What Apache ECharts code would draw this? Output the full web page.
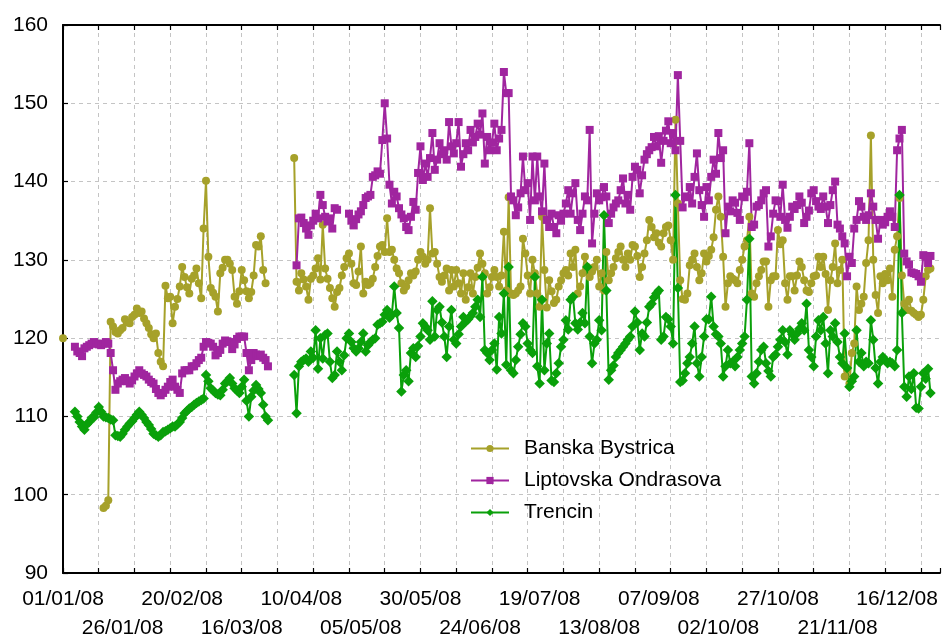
<!DOCTYPE html>
<html>
<head>
<meta charset="utf-8">
<title>Daily series 2008</title>
<script src="https://cdn.jsdelivr.net/npm/echarts@6/dist/echarts.min.js"></script>
<style>
  html, body { margin: 0; padding: 0; background: #ffffff; }
  #chart { width: 944px; height: 638px; }
</style>
</head>
<body>
<div id="chart"></div>
<script>
// Daily readings from 01/01/2008, one value per day (null = no reading).
const startYear = 2008;
const seriesNames = ['Banska Bystrica', 'Liptovska Ondrasova', 'Trencin'];

const banskaBystrica = [
  120.0,
  null, null, null, null, null, null, null, null, null, null, null, null, null, null, null, null,
  98.3, 98.6, 99.3,
  122.1, 121.5, 120.8, 120.6, 121.0, 121.3, 122.4, 122.0, 121.9, 122.7,
  123.0, 123.8, 123.2, 123.4, 122.5, 121.9, 121.3, 120.5, 120.0, 120.6,
  118.1, 117.0, 116.4, 126.7, 125.1, 125.3, 121.9, 124.0, 125.0, 126.6,
  129.1, 127.8, 126.5, 125.7, 127.6, 128.0, 128.9, 127.0, 125.1, 134.0,
  140.1, 130.4, 126.4, 125.8, 125.3, 123.4, 128.3, 129.0, 130.0, 130.0,
  129.5, 128.7, 125.3, 124.4, 126.0, 128.7, 127.4, 126.0, 125.1, 125.9,
  128.0, 131.9, 131.7, 133.0, 128.7, 127.0,
  null, null, null, null, null, null, null, null, null, null, null,
  143.0, 127.2, 126.1,
  128.3, 127.5, 126.6, 124.9, 127.6, 128.0, 128.9, 130.2, 127.5, 134.5,
  128.9, 127.6, 126.4, 125.1, 124.0, 125.9, 126.4, 128.0, 129.1, 130.2,
  130.8, 129.5, 127.0, 126.8, 128.5, 131.7, 125.7, 127.2, 126.8, 127.0,
  127.6, 129.1, 130.5, 131.7, 131.9, 131.0, 135.3, 131.0, 131.3, 130.0,
  128.9, 128.3, 127.0, 126.1, 126.6, 127.4, 128.3, 128.0, 128.5, 130.0,
  131.0, 130.4, 129.5, 130.0, 136.6, 130.8, 131.0, 129.5, 127.8, 127.2,
  128.0, 128.9, 126.1, 128.7, 126.6, 128.7, 127.0, 125.7, 128.3, 124.9,
  126.5, 128.3, 125.7, 127.8, 129.0, 130.8, 129.5, 128.3, 125.7, 126.5,
  127.8, 128.7, 127.8, 126.6, 128.0, 133.6, 126.1, 138.0, 125.7, 125.5,
  125.7, 126.1, 126.6, 132.7, 130.8, 128.0, 125.7, 130.0, 128.3, 125.7,
  124.0, 135.5, 128.7, 123.9, 127.4, 126.0, 124.5, 124.9, 126.6, 127.4,
  128.3, 128.7, 128.0, 130.8, 129.1, 131.3, 125.7, 126.6, 128.3, 130.4,
  129.1, 127.8, 128.5, 129.1, 130.0, 126.6, 128.3, 126.1, 131.0, 127.4,
  128.3, 129.1, 130.2, 131.0, 131.7, 130.0, 129.1, 130.8, 130.0, 131.9,
  131.7, 130.5, 127.8, 129.1, 130.8, 132.5, 135.1, 134.2, 132.9, 133.4,
  132.2, 131.7, 133.4, 134.2, 134.4, 132.5, 130.0, 147.9, 137.2, 127.4,
  125.0, 124.9, 125.7, 129.3, 130.0, 130.8, 129.1, 127.4, 128.3, 130.8,
  129.8, 130.5, 131.3, 132.9, 136.4, 138.1, 135.5, 130.4, 124.0, 127.0,
  127.9, 127.6, 127.4, 127.0, 128.7, 130.0, 131.7, 132.5, 135.5, 125.7,
  125.3, 127.0, 127.9, 128.7, 129.8, 129.8, 124.0, 127.4, 127.9, 127.9,
  133.8, 132.0, 132.5, 127.0, 124.9, 127.9, 127.9, 126.1, 128.0, 129.8,
  129.1, 127.4, 126.1, 125.9, 127.0, 127.9, 128.0, 130.4, 129.1, 130.4,
  128.2, 123.6, 127.4, 129.1, 132.1, 127.0, 128.7, 130.0, 115.1, 116.0,
  114.2, 118.1, 119.3, 126.6, 123.6, 124.4, 125.3, 129.6, 132.5, 145.9,
  130.0, 125.5, 123.2, 127.9, 127.0, 128.2, 127.4, 128.9, 125.3, 131.3,
  133.0, 137.9, 128.0, 124.4, 123.6, 124.9, 123.5, 123.2, 123.0, 122.7,
  123.0, 124.9, 127.9, 128.7, 128.9
];

const liptovskaOndrasova = [
  null, null, null, null, null,
  118.9, 118.3, 118.1, 117.7, 118.7, 118.9, 119.1, 119.3, 119.5, 119.3,
  119.2, 119.1, 119.3, 119.5, 119.3, 118.1, 115.9, 113.4, 114.2, 114.5,
  114.7, 114.9, 114.5, 114.2, 114.6, 115.1, 115.5, 115.9, 115.5, 115.3,
  115.1, 114.7, 114.4, 114.2, 113.5, 113.0, 112.7, 113.0, 113.4, 113.8,
  114.4, 114.7, 113.8, 113.4, 113.0, 115.5, 115.9, 115.9, 115.9, 116.4,
  116.4, 116.8, 117.2, 117.5, 118.9, 119.5, 119.4, 119.3, 118.9, 117.8,
  118.1, 118.5, 119.3, 119.7, 119.6, 119.5, 118.6, 119.2, 119.9, 120.2,
  120.2, 120.2, 118.1, 115.9, 117.2, 118.1, 117.9, 117.7, 117.9, 117.5,
  117.2, 116.4,
  null, null, null, null, null, null, null, null, null, null, null,
  129.3, 135.3,
  135.4, 134.7, 134.0, 133.2, 134.4, 135.0, 135.9, 135.3, 138.3, 137.0,
  135.5, 134.9, 135.3, 134.0, 136.6, 136.4,
  null, null, null, null,
  135.9, 135.0, 134.4, 135.2, 135.8, 136.2, 137.0, 137.9, 138.1, 138.3,
  140.6, 140.8, 141.3, 141.0, 145.3, 150.0, 145.5, 139.6, 137.2, 138.7,
  138.1, 136.6, 135.8, 135.3, 134.2, 133.8, 135.5, 137.4, 136.4, 141.1,
  144.5, 140.2, 142.3, 140.6, 143.0, 146.2, 141.5, 142.8, 144.9, 143.5,
  144.0, 142.8, 147.6, 144.5, 143.6, 144.9, 147.6, 141.9, 143.5, 144.9,
  144.0, 146.6, 145.0, 145.7, 147.4, 146.0, 148.7, 142.3, 145.7, 144.0,
  145.0, 147.4, 144.0, 145.5, 146.6, 154.0, 151.3, 151.3, 138.1, 137.6,
  135.7, 136.7, 138.5, 143.2, 138.9, 139.8, 135.1, 143.2, 137.6, 143.2,
  138.1, 136.2, 142.3, 135.1, 134.2, 135.9, 134.2, 133.4, 135.7, 135.0,
  135.9, 137.2, 138.9, 135.9, 138.5, 139.8, 135.1, 133.8, 135.9, 138.1,
  137.6, 146.6, 132.1, 135.9, 138.5, 137.6, 138.0, 139.3, 138.1, 134.7,
  135.9, 136.7, 137.2, 137.6, 138.9, 140.4, 137.2, 138.3, 136.4, 140.6,
  141.9, 141.5, 138.5, 140.8, 142.8, 143.5, 144.0, 144.4, 145.7, 144.5,
  145.8, 142.4, 145.2, 146.5, 147.7, 144.9, 146.2, 144.0, 153.6, 145.2,
  136.7, 138.1, 138.0, 139.3, 137.2, 140.6, 143.6, 138.9, 137.0, 135.5,
  139.3, 137.6, 140.6, 142.8, 141.0, 146.2, 143.0, 144.0, 133.4, 136.8,
  136.2, 137.6, 137.3, 136.0, 135.1, 138.1, 138.0, 138.7, 144.9, 134.2,
  134.5, 136.8, 137.0, 137.6, 138.5, 138.9, 131.7, 133.0, 135.9, 137.6,
  137.5, 135.5, 139.6, 135.1, 134.1, 135.5, 136.8, 136.5, 137.0, 138.1,
  137.3, 134.7, 135.5, 136.3, 138.5, 138.9, 137.5, 136.8, 136.5, 138.1,
  136.8, 134.7, 137.0, 138.9, 140.0, 134.5, 134.0, 133.0, 132.1, 127.9,
  130.4, 129.6, 134.0, 135.1, 137.5, 136.8, 135.5, 135.1, 135.7, 138.5,
  136.8, 135.1, 132.7, 135.1, 134.5, 134.8, 135.5, 136.2, 135.5, 134.2,
  144.0, 145.5, 146.6, 130.8, 129.8, 129.4, 128.4, 128.3, 128.2, 127.9,
  127.2, 130.6, 130.4, 129.6, 130.5
];

const trencin = [
  null, null, null, null, null,
  110.6, 110.0, 109.3, 108.7, 108.3, 109.0, 109.3, 109.8, 109.9, 110.5,
  111.2, 110.6, 110.0, 109.9, 109.8, 109.6, 109.5, 107.6, 107.5, 107.4,
  107.8, 108.3, 108.7, 109.1, 109.4, 109.8, 110.2, 110.6, 110.2, 109.8,
  109.3, 108.9, 108.4, 107.8, 107.6, 107.4, 107.6, 108.0, 108.1, 108.3,
  108.5, 108.7, 108.7, 109.0, 109.3, 109.8, 110.4, 110.7, 111.0, 111.2,
  111.5, 111.7, 111.9, 112.1, 112.3, 115.3, 114.5, 113.6, 113.3, 113.0,
  112.8, 112.7, 113.4, 114.2, 114.5, 114.9, 114.2, 113.6, 113.3, 113.0,
  113.8, 114.7, 112.0, 110.0, 112.5, 113.3, 114.0, 113.5, 113.0, 111.5,
  110.0, 109.5,
  null, null, null, null, null, null, null, null, null, null,
  115.3, 110.4, 116.4,
  117.0, 117.2, 117.4, 117.0, 118.3, 117.5, 121.0, 116.1, 120.0, 117.4,
  120.4, 120.6, 117.0, 114.9, 115.3, 118.3, 117.0, 115.9, 117.8, 120.0,
  120.6, 119.5, 118.7, 118.3, 118.7, 119.5, 120.6, 118.3, 119.1, 119.5,
  119.8, 120.0, 121.7, 121.9, 122.1, 123.0, 123.6, 122.6, 123.0, 126.6,
  123.2, 121.3, 113.2, 115.3, 115.9, 114.5, 118.1, 118.7, 117.6, 119.0,
  120.2, 121.9, 121.5, 121.0, 119.8, 124.7, 120.2, 123.6, 124.0, 122.0,
  120.2, 117.6, 121.5, 123.6, 119.8, 119.3, 120.5, 121.5, 122.7, 122.1,
  122.4, 122.8, 123.2, 124.0, 124.9, 122.7, 127.8, 118.5, 118.1, 117.2,
  118.5, 119.3, 116.0, 122.7, 120.6, 125.7, 116.6, 129.1, 115.9, 115.5,
  117.2, 118.9, 120.5, 121.9, 121.5, 119.3, 118.5, 118.1, 127.8, 116.4,
  114.2, 124.9, 115.9, 119.3, 120.6, 114.6, 114.4, 115.5, 116.8, 118.9,
  119.8, 122.3, 121.1, 124.9, 125.3, 121.9, 121.1, 122.0, 123.2, 121.9,
  129.1, 120.2, 116.8, 119.3, 119.8, 122.3, 121.0, 135.7, 126.1, 114.7,
  115.9, 116.5, 117.6, 118.1, 118.5, 118.9, 119.3, 119.8, 120.2, 121.5,
  123.4, 122.0, 118.5, 120.6, 120.2, 122.0, 124.0, 124.4, 125.2, 125.7,
  126.1, 119.8, 120.2, 122.7, 122.4, 121.5, 119.3, 138.3, 126.4, 114.4,
  114.6, 115.5, 116.8, 117.6, 119.3, 121.5, 116.8, 115.1, 117.6, 120.2,
  122.4, 122.4, 125.3, 121.5, 120.5, 120.2, 119.3, 115.1, 116.4, 118.5,
  116.8, 117.0, 116.4, 117.6, 118.5, 119.3, 120.2, 124.9, 132.7, 115.1,
  114.2, 115.5, 117.0, 118.5, 118.9, 116.8, 115.8, 115.1, 117.6, 117.9,
  118.9, 119.8, 121.0, 119.5, 117.9, 121.0, 120.5, 119.8, 120.6, 121.2,
  121.9, 121.0, 124.4, 118.5, 117.6, 116.4, 120.2, 122.3, 121.0, 122.7,
  119.3, 115.5, 121.0, 120.2, 121.9, 119.5, 117.6, 116.8, 120.6, 116.2,
  113.8, 114.5, 115.1, 121.0, 117.0, 118.1, 116.4, 117.0, 116.8, 122.3,
  119.8, 116.2, 114.2, 117.0, 117.6, 117.2, 116.8, 117.0, 116.8, 116.4,
  118.5, 138.3, 123.2, 113.8, 112.5, 115.1, 113.5, 115.5, 111.1, 111.0,
  113.8, 115.5, 114.8, 116.1, 113.0
];

// Axis settings (days since 01/01/2008)
const dayMax = 368;
const gridStep = 15;
const labelStep = 25;
const yTicks = [90, 100, 110, 120, 130, 140, 150, 160];

const seriesColors = ['#a6a12a', '#a0259f', '#0aa00a'];
const seriesSymbols = ['circle', 'rect', 'diamond'];
const symbolSizes = [8, 8, 10.5];

const FONT = '"Liberation Sans", Arial, Helvetica, sans-serif';

function pad2(n) { return n < 10 ? '0' + n : String(n); }
function dayLabel(day) {
  const d = new Date(startYear, 0, 1 + day);
  return pad2(d.getDate()) + '/' + pad2(d.getMonth() + 1) + '/' + String(d.getFullYear()).slice(2);
}
function toPoints(values) {
  return values.map(function (v, i) { return [i, v === null ? '-' : v]; });
}

const chart = echarts.init(document.getElementById('chart'), null, { renderer: 'canvas' });

const axisBlack = { show: true, lineStyle: { color: '#000000', width: 2 } };
const innerTicks = { show: true, inside: true, length: 5, lineStyle: { color: '#000000', width: 1.2 } };
const dashedGrid = { show: true, showMinLine: false, showMaxLine: false,
                     lineStyle: { color: '#c4c4c4', type: [4, 4], width: 1 } };

// Date labels alternate between two rows: row 0 holds 01/01, 20/02, ...; row 1 holds 26/01, 16/03, ...
function labelAxis(row) {
  return {
    type: 'value', position: 'bottom', min: 0, max: dayMax, interval: labelStep,
    axisLine: { show: false }, axisTick: { show: false }, splitLine: { show: false },
    axisLabel: {
      show: true, margin: 15 + row * 29, showMinLabel: true, showMaxLabel: false,
      fontFamily: FONT, fontSize: 21, color: '#000000', lineHeight: 22,
      formatter: function (v) {
        if (v % labelStep !== 0) return '';
        return (v / labelStep) % 2 === row ? dayLabel(v) : '';
      }
    }
  };
}

const option = {
  animation: false,
  backgroundColor: '#ffffff',
  grid: { left: 63, right: 4, top: 25, bottom: 65, containLabel: false, outerBoundsMode: 'none' },
  xAxis: [
    { // grid lines and ticks every 15 days
      type: 'value', position: 'bottom', min: 0, max: dayMax, interval: gridStep,
      axisLine: axisBlack, axisTick: innerTicks, axisLabel: { show: false },
      splitLine: dashedGrid
    },
    { // top frame
      type: 'value', position: 'top', min: 0, max: dayMax, interval: gridStep,
      axisLine: axisBlack, axisTick: innerTicks, axisLabel: { show: false },
      splitLine: { show: false }
    },
    labelAxis(0),
    labelAxis(1)
  ],
  yAxis: {
    type: 'value', min: yTicks[0], max: yTicks[yTicks.length - 1], interval: 10,
    axisLine: axisBlack, axisTick: innerTicks,
    axisLabel: { margin: 15, fontFamily: FONT, fontSize: 21, color: '#000000' },
    splitLine: dashedGrid
  },
  legend: {
    orient: 'vertical', left: 465, top: 433, itemGap: 11,
    itemWidth: 38, itemHeight: 9,
    textStyle: { fontFamily: FONT, fontSize: 21, color: '#000000', padding: [0, 0, 0, 10] },
    data: seriesNames
  },
  series: [banskaBystrica, liptovskaOndrasova, trencin].map(function (values, s) {
    return {
      name: seriesNames[s], type: 'line', xAxisIndex: 0,
      data: toPoints(values), connectNulls: false,
      showAllSymbol: true, symbol: seriesSymbols[s], symbolSize: symbolSizes[s],
      lineStyle: { color: seriesColors[s], width: 2 },
      itemStyle: { color: seriesColors[s], borderWidth: 0 }
    };
  })
};

chart.setOption(option);
</script>
</body>
</html>
